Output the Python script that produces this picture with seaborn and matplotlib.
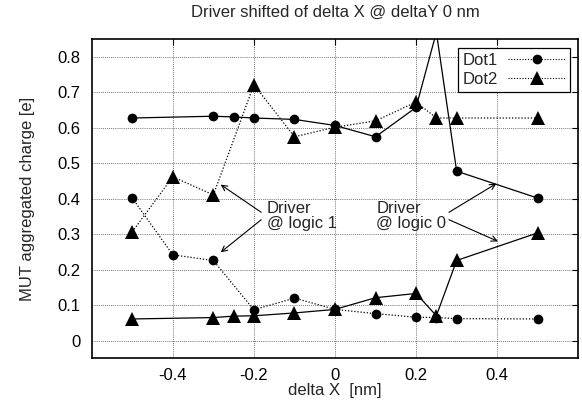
import numpy as np
import pandas as pd
import matplotlib
matplotlib.use("Agg")
import matplotlib.pyplot as plt
from matplotlib.lines import Line2D
import seaborn as sns

# logic 0 branch (solid lines)
x_solid = [-0.5, -0.3, -0.25, -0.2, -0.1, 0.0, 0.1, 0.2, 0.25, 0.3, 0.5]
dot1_solid = [0.628, 0.633, 0.631, 0.628, 0.624, 0.607, 0.575, 0.658, 0.87, 0.478, 0.402]
dot2_solid = [0.061, 0.065, 0.069, 0.070, 0.078, 0.088, 0.121, 0.133, 0.070, 0.226, 0.304]

# logic 1 branch (dotted lines)
x_dotted = [-0.5, -0.4, -0.3, -0.2, -0.1, 0.0, 0.1, 0.2, 0.25, 0.3, 0.5]
dot1_dotted = [0.402, 0.242, 0.226, 0.087, 0.120, 0.088, 0.076, 0.066, 0.065, 0.062, 0.061]
dot2_dotted = [0.307, 0.462, 0.411, 0.722, 0.575, 0.602, 0.620, 0.673, 0.628, 0.628, 0.628]

x_ticks = [-0.4, -0.2, 0, 0.2, 0.4]
y_ticks = [0, 0.1, 0.2, 0.3, 0.4, 0.5, 0.6, 0.7, 0.8]

sns.set_theme(style="white")
plt.rcParams["font.family"] = ["Liberation Sans", "DejaVu Sans"]
fs = 12

fig = plt.figure(figsize=(5.82, 4.13), dpi=100)
ax = fig.add_axes([0.1576, 0.1324, 0.836, 0.7724])

dots = (0, (1, 1.5))
sns.lineplot(x=x_solid, y=dot1_solid, ax=ax, color="black", lw=0.9, marker="o",
             markersize=7, markeredgewidth=0, sort=False, estimator=None)
sns.lineplot(x=x_solid, y=dot2_solid, ax=ax, color="black", lw=0.9, marker="^",
             markersize=10, markeredgewidth=0, sort=False, estimator=None)
sns.lineplot(x=x_dotted, y=dot1_dotted, ax=ax, color="black", lw=0.9, linestyle=dots,
             marker="o", markersize=7, markeredgewidth=0, sort=False, estimator=None)
sns.lineplot(x=x_dotted, y=dot2_dotted, ax=ax, color="black", lw=0.9, linestyle=dots,
             marker="^", markersize=10, markeredgewidth=0, sort=False, estimator=None)

ax.set_xlim(-0.6, 0.6)
ax.set_ylim(-0.05, 0.85)
ax.set_xticks(x_ticks)
ax.set_xticklabels(["-0.4", "-0.2", "0", "0.2", "0.4"])
ax.set_yticks(y_ticks)
ax.set_yticklabels(["0", "0.1", "0.2", "0.3", "0.4", "0.5", "0.6", "0.7", "0.8"])
ax.tick_params(direction="in", length=4, width=0.8, colors="black", labelsize=fs,
               top=True, right=True, pad=8)
ax.tick_params(axis="x", pad=7)
ax.grid(True, color="#444444", linestyle=(0, (1, 1.5)), lw=0.6)
for s in ax.spines.values():
    s.set_color("black")
    s.set_linewidth(1.2)

ax.set_title("Driver shifted of delta X @ deltaY 0 nm", fontsize=fs, pad=16)
ax.set_xlabel("delta X  [nm]", fontsize=fs, labelpad=0)
ax.set_ylabel("MUT aggregated charge [e]", fontsize=fs, labelpad=16)

arrow = dict(arrowstyle="->", color="black", lw=0.8, mutation_scale=10, shrinkA=0, shrinkB=0)
ax.text(-0.168, 0.351, "Driver\n@ logic 1", fontsize=fs, va="center", ha="left", linespacing=1.0)
ax.annotate("", xy=(-0.282, 0.44), xytext=(-0.182, 0.362), arrowprops=arrow)
ax.annotate("", xy=(-0.282, 0.249), xytext=(-0.182, 0.341), arrowprops=arrow)
ax.text(0.102, 0.351, "Driver\n@ logic 0", fontsize=fs, va="center", ha="left", linespacing=1.0)
ax.annotate("", xy=(0.398, 0.443), xytext=(0.281, 0.362), arrowprops=arrow)
ax.annotate("", xy=(0.402, 0.28), xytext=(0.281, 0.341), arrowprops=arrow)

handles = [
    Line2D([], [], color="black", lw=0.8, linestyle=dots, marker="o", markersize=7, markeredgewidth=0),
    Line2D([], [], color="black", lw=0.8, linestyle=dots, marker="^", markersize=10, markeredgewidth=0),
]
leg = ax.legend(handles, ["Dot1", "Dot2"], loc="upper right", markerfirst=False, fontsize=fs,
                frameon=True, fancybox=False, edgecolor="black", framealpha=1,
                borderaxespad=0.5, handlelength=3.4, borderpad=0.3, labelspacing=0.25,
                handletextpad=0.6)
leg.get_frame().set_linewidth(0.9)

fig.savefig("out.png", dpi=100)
